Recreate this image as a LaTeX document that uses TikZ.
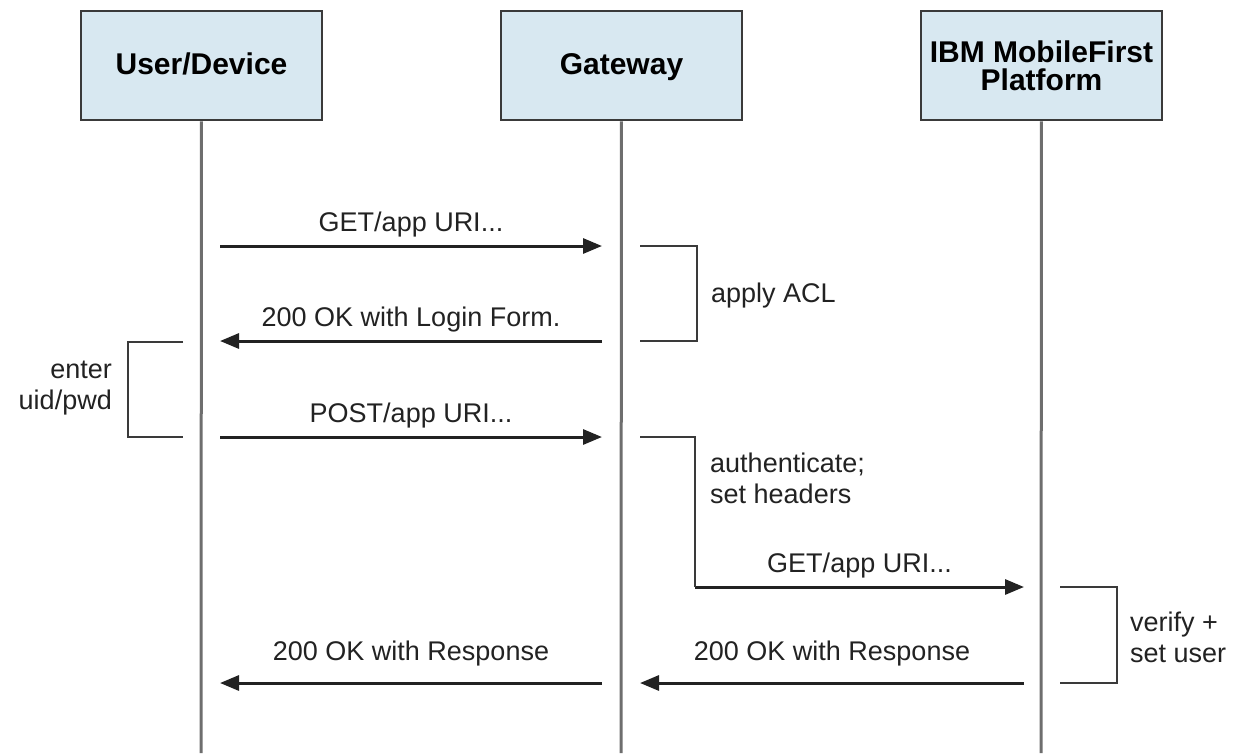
\documentclass[tikz,border=0pt]{standalone}
\usepackage{fontspec}
\setmainfont{Liberation Sans}
\usepackage{xcolor}
\usetikzlibrary{arrows.meta, positioning}
\definecolor{headfill}{HTML}{D8E8F1}
\definecolor{headdraw}{HTML}{3A3A3A}
\definecolor{lifegray}{HTML}{6E6E6E}
\definecolor{msgblack}{HTML}{222222}
\tikzset{
  head/.style={draw=headdraw, line width=2.5pt, fill=headfill,
               minimum width=241pt, minimum height=109pt, align=center,
               inner sep=0pt, font=\fontsize{30}{28}\selectfont\bfseries},
  oneline/.style={text height=22pt, text depth=4pt},
  lifeline/.style={draw=lifegray, line width=3pt},
  msg/.style={-{Triangle[length=19pt, width=15pt]}, draw=msgblack,
              line width=3pt},
  msglabel/.style={above=4pt, font=\fontsize{27}{31}\selectfont,
                   text=msgblack},
  bracket/.style={draw=headdraw, line width=2.5pt},
  note/.style={font=\fontsize{27}{31}\selectfont, text=msgblack,
               inner sep=0pt}
}
\begin{document}
\begin{tikzpicture}[x=1pt, y=-1pt]
  \useasboundingbox (0,0) rectangle (1236,753);

  % participants
  \node[head, oneline] (user) at (201.5,65.5) {User/Device};
  \node[head, oneline, right=176.5pt of user] (gw) {Gateway};
  \node[head, right=176.5pt of gw] (ibm) {IBM MobileFirst\\Platform};

  \coordinate (userend) at (201,753);
  \coordinate (gwend) at (621,753);
  \coordinate (ibmend) at (1041,753);
  \draw[lifeline] (user) -- (userend);
  \draw[lifeline] (gw) -- (gwend);
  \draw[lifeline] (ibm) -- (ibmend);

  % message end points
  \coordinate (u1) at (220,246);  \coordinate (g1) at (602,246);
  \coordinate (g2) at (602,341);  \coordinate (u2) at (220,341);
  \coordinate (u3) at (220,437);  \coordinate (g3) at (602,437);
  \coordinate (g4) at (695,587);  \coordinate (i4) at (1024,587);
  \coordinate (i5) at (1024,683); \coordinate (g5) at (640,683);
  \coordinate (g6) at (602,683);  \coordinate (u6) at (220,683);

  \draw[msg] (u1) -- node[msglabel]{GET/app URI...} (g1);
  \draw[msg] (g2) -- node[msglabel]{200 OK with Login Form.} (u2);
  \draw[msg] (u3) -- node[msglabel]{POST/app URI...} (g3);
  \draw[msg] (g4) -- node[msglabel]{GET/app URI...} (i4);
  \draw[msg] (i5) -- node[msglabel, above=12pt]{200 OK with Response} (g5);
  \draw[msg] (g6) -- node[msglabel, above=12pt]{200 OK with Response} (u6);

  % activity brackets
  \coordinate (acl1) at (640,246);  \coordinate (acl2) at (640,341);
  \draw[bracket] (acl1) -- (697,246) -- (697,341) -- (acl2);
  \node[note, anchor=west] (acl) at (711,296) {apply ACL};

  \coordinate (pwd1) at (183,342);  \coordinate (pwd2) at (183,437);
  \draw[bracket] (pwd1) -- (128,342) -- (128,437) -- (pwd2);
  \node[note, anchor=east, align=right] (pwd) at (112,388) {enter\\uid/pwd};

  \coordinate (auth1) at (640,437);
  \draw[bracket] (auth1) -- (695,437) -- (g4);
  \node[note, anchor=north west, align=left] (auth) at (710,453)
    {authenticate;\\set headers};

  \coordinate (ver1) at (1060,587);  \coordinate (ver2) at (1060,683);
  \draw[bracket] (ver1) -- (1117,587) -- (1117,683) -- (ver2);
  \node[note, anchor=west, align=left] (ver) at (1130,637)
    {verify +\\set user};
\end{tikzpicture}
\end{document}
